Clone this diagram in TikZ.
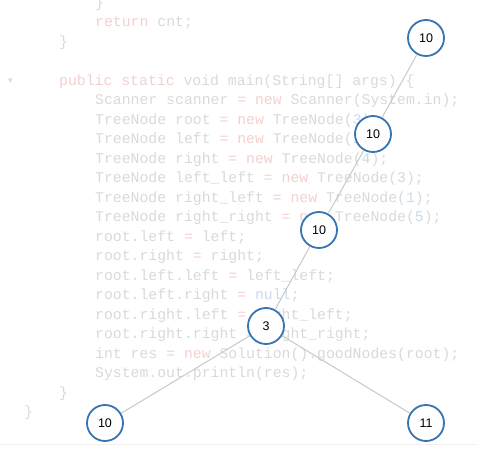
\documentclass[tikz,border=0pt]{standalone}
\usepackage{fontspec}
\setmonofont{Liberation Mono}
\setsansfont{Liberation Sans}
\newfontfamily\symfont{DejaVu Sans}

\definecolor{codegray}{HTML}{D9D9D9}
\definecolor{codekw}{HTML}{F5CFCF}
\definecolor{codenum}{HTML}{C9DAF0}
\definecolor{ringblue}{HTML}{3674B2}
\definecolor{edgegray}{HTML}{C8C8C8}
\definecolor{rulegray}{HTML}{F0F0F0}

\newcommand{\ckw}[1]{\textcolor{codekw}{#1}}
\newcommand{\cnum}[1]{\textcolor{codenum}{#1}}

\begin{document}
\begin{tikzpicture}[x=1pt, y=-1pt,
  codeline/.style={anchor=base west, inner sep=0pt, text=codegray,
    font=\fontsize{14.8}{19.5}\selectfont\ttfamily},
  treenode/.style={circle, draw=ringblue, fill=white, line width=1.8pt,
    minimum size=36pt, inner sep=0pt, text=black,
    font=\fontsize{12.5}{14}\selectfont\sffamily},
  treeedge/.style={draw=edgegray, line width=1pt}]
  \useasboundingbox (0,0) rectangle (477,462);

  % faded source code in the background
  \node[codeline] (c0)  at (95,7.5)  {\}};
  \node[codeline] (c1)  at (95,27)   {\ckw{return} cnt;};
  \node[codeline] (c2)  at (59,46.5) {\}};
  \node[codeline, font=\fontsize{9}{10}\selectfont\symfont] (fold) at (8,84) {▾};
  \node[codeline] (c4)  at (59,85.5) {\ckw{public static} void main(String[] args) \{};
  \node[codeline] (c5)  at (95,105)  {Scanner scanner \ckw{= new} Scanner(System.in);};
  \node[codeline] (c6)  at (95,124.5) {TreeNode root \ckw{= new} TreeNode(\cnum{3});};
  \node[codeline] (c7)  at (95,144)  {TreeNode left \ckw{= new} TreeNode(\cnum{1});};
  \node[codeline] (c8)  at (95,163.5) {TreeNode right \ckw{= new} TreeNode(\cnum{4});};
  \node[codeline] (c9)  at (95,183)  {TreeNode left\_left \ckw{= new} TreeNode(\cnum{3});};
  \node[codeline] (c10) at (95,202.5) {TreeNode right\_left \ckw{= new} TreeNode(\cnum{1});};
  \node[codeline] (c11) at (95,222)  {TreeNode right\_right \ckw{= new} TreeNode(\cnum{5});};
  \node[codeline] (c12) at (95,241.5) {root.left \ckw{=} left;};
  \node[codeline] (c13) at (95,261)  {root.right \ckw{=} right;};
  \node[codeline] (c14) at (95,280.5) {root.left.left \ckw{=} left\_left;};
  \node[codeline] (c15) at (95,300)  {root.left.right \ckw{=} \cnum{null};};
  \node[codeline] (c16) at (95,319.5) {root.right.left \ckw{=} right\_left;};
  \node[codeline] (c17) at (95,339)  {root.right.right \ckw{=} right\_right;};
  \node[codeline] (c18) at (95,358.5) {int res \ckw{= new} Solution().goodNodes(root);};
  \node[codeline] (c19) at (95,378)  {System.out.println(res);};
  \node[codeline] (c20) at (59,397.5) {\}};
  \node[codeline] (c21) at (24,417)  {\}};

  % faint rule under the panel
  \draw[rulegray, line width=0.8pt] (0,444) -- (477,444);

  % the tree
  \node[treenode] (top)    at (426,38)  {10};
  \node[treenode] (second) at (373,134) {10};
  \node[treenode] (third)  at (319,230) {10};
  \node[treenode] (three)  at (266,326) {3};
  \node[treenode] (lleaf)  at (105,423) {10};
  \node[treenode] (rleaf)  at (426,423) {11};

  \draw[treeedge] (top) -- (second);
  \draw[treeedge] (second) -- (third);
  \draw[treeedge] (third) -- (three);
  \draw[treeedge] (three) -- (lleaf);
  \draw[treeedge] (three) -- (rleaf);
\end{tikzpicture}
\end{document}
